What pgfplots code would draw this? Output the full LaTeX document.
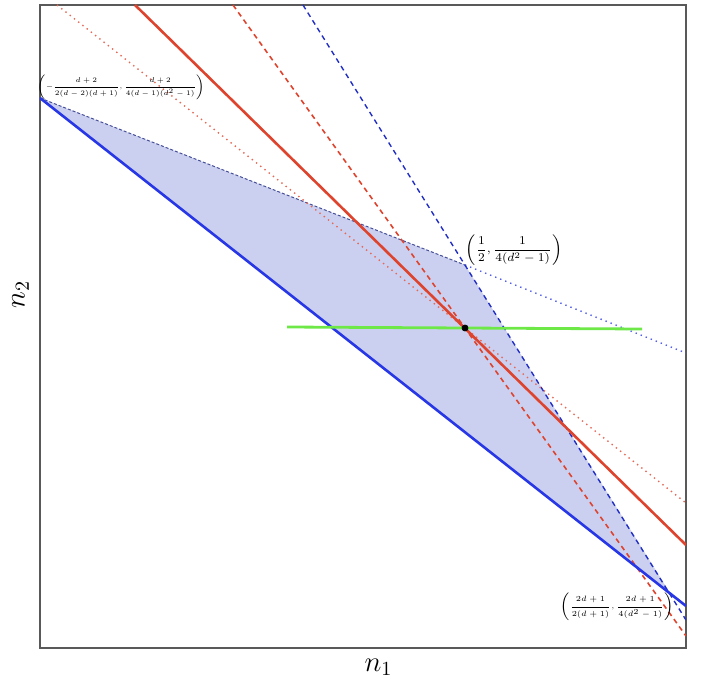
\documentclass[border=0pt]{standalone}
\usepackage{graphicx}
\usepackage{pgfplots}
\pgfplotsset{compat=1.18}
\definecolor{fillblue}{RGB}{203,208,240}
\definecolor{lblue}{RGB}{40,55,230}
\definecolor{lred}{RGB}{222,68,45}
\definecolor{lgreen}{RGB}{110,232,70}
\definecolor{edgeblue}{RGB}{70,80,150}
\begin{document}
\begin{tikzpicture}
\begin{axis}[name=ax,
  x=0.5pt, y=0.5pt,
  xmin=40, xmax=686, ymin=38, ymax=681,
  axis line style={draw=black!65, line width=0.6pt},
  xtick=\empty, ytick=\empty,
  xlabel={\Large $n_1$}, ylabel={\Large $n_2$},
  xlabel style={at={(axis description cs:0.524,0)}, anchor=north, yshift=-2pt},
  ylabel style={at={(axis description cs:0,0.55)}, anchor=south, yshift=2pt},
]
% region
\addplot[fill=fillblue, draw=none] coordinates {(40,588) (465,421) (670,93)} -- cycle;
% upper edge
\addplot[edgeblue, line width=0.5pt, dash pattern=on 1.5pt off 1pt] coordinates {(40,588) (465,421)};
% blue dotted extension
\addplot[lblue!80, dotted, line width=0.7pt] coordinates {(465,421) (686,333)};
% blue dashed line
\addplot[lblue!85!black, line width=0.7pt, dash pattern=on 2.5pt off 2pt] coordinates {(303,681) (686,66)};
% red dotted
\addplot[lred!80, dotted, line width=0.7pt] coordinates {(57,681) (686,183)};
% red dashed
\addplot[lred, line width=0.8pt, dash pattern=on 2.5pt off 2pt] coordinates {(233,681) (686,50)};
% red solid
\addplot[lred, line width=1.3pt] coordinates {(135,681) (686,141)};
% blue solid
\addplot[lblue, line width=1.3pt] coordinates {(40,588) (686,80)};
% green
\addplot[lgreen, line width=1.4pt] coordinates {(287,359) (642,357)};
% point
\addplot[only marks, mark=*, mark size=1.5pt, black] coordinates {(465,358)};
\node[font=\tiny, inner sep=0pt] at (axis cs:121,599) {\scalebox{0.69}{$\displaystyle\left(-\frac{d+2}{2(d-2)(d+1)},\frac{d+2}{4(d-1)(d^2-1)}\right)$}};
\node[font=\scriptsize, inner sep=0pt] at (axis cs:514,436) {\scalebox{0.85}{$\displaystyle\left(\frac{1}{2},\frac{1}{4(d^2-1)}\right)$}};
\node[font=\tiny, inner sep=0pt] at (axis cs:617,79) {\scalebox{0.77}{$\displaystyle\left(\frac{2d+1}{2(d+1)},\frac{2d+1}{4(d^2-1)}\right)$}};
\end{axis}
\path ([xshift=-20pt,yshift=-19pt]ax.south west) rectangle ([xshift=9.5pt,yshift=2.5pt]ax.north east);
\end{tikzpicture}
\end{document}
